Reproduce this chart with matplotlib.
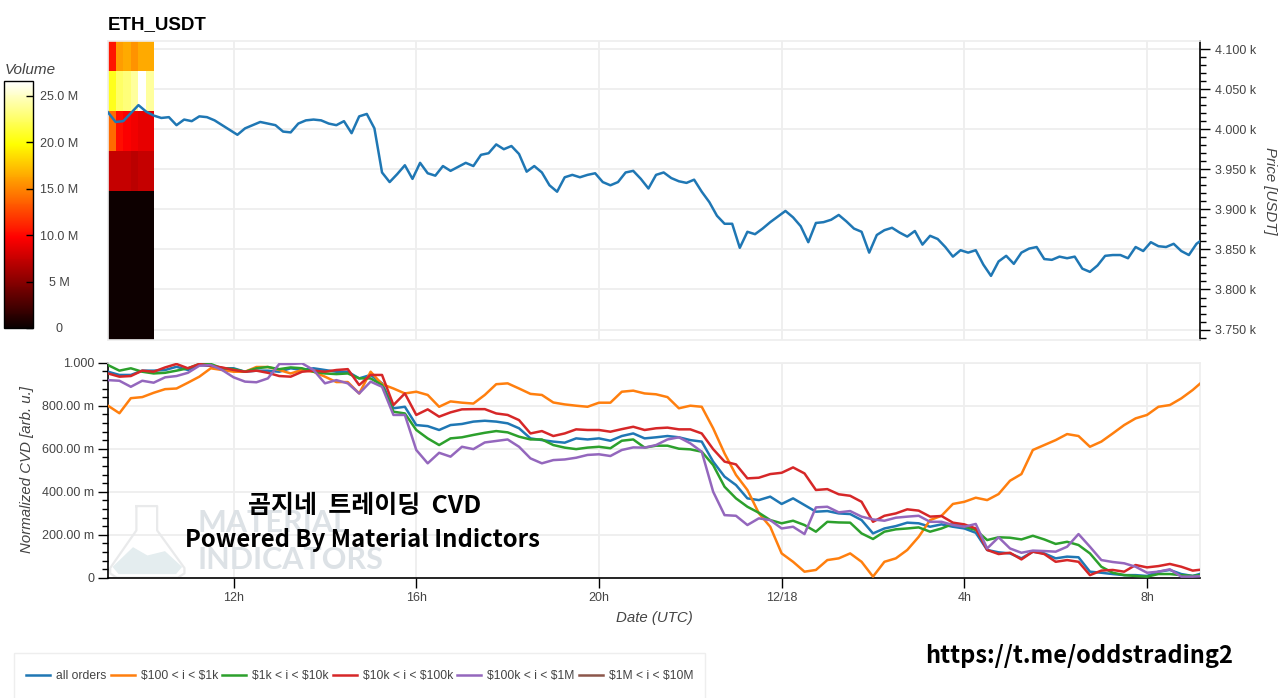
import numpy as np
import matplotlib.pyplot as plt

plt.rcParams['font.family'] = ['Liberation Sans', 'DejaVu Sans']
TEXT = '#444444'
GRID = '#eeeeee'

PRICE = [4021, 4009, 4010, 4020, 4030, 4022, 4017, 4014, 4015, 4005, 4012, 4010,
         4016, 4015, 4011, 4005, 3999, 3993, 4001, 4005, 4009, 4007, 4005, 3997,
         3996, 4007, 4011, 4012, 4011, 4007, 4005, 4010, 3995, 4016, 4019, 4001,
         3946, 3934, 3944, 3955, 3938, 3958, 3945, 3942, 3954, 3948, 3953, 3958,
         3954, 3968, 3970, 3981, 3975, 3979, 3969, 3947, 3954, 3946, 3930, 3922,
         3940, 3943, 3940, 3943, 3945, 3934, 3930, 3934, 3946, 3948, 3938, 3926,
         3943, 3946, 3939, 3935, 3933, 3937, 3922, 3909, 3892, 3882, 3882, 3852,
         3872, 3869, 3876, 3884, 3891, 3898, 3890, 3879, 3859, 3883, 3884, 3887,
         3893, 3885, 3876, 3872, 3846, 3868, 3874, 3877, 3871, 3866, 3873, 3856,
         3867, 3863, 3853, 3841, 3849, 3846, 3849, 3831, 3817, 3835, 3842, 3832,
         3846, 3851, 3853, 3838, 3837, 3841, 3839, 3841, 3826, 3822, 3830, 3842,
         3843, 3843, 3839, 3853, 3848, 3859, 3854, 3853, 3857, 3848, 3843, 3857,
         3864]

CVD = {
    'all orders': ('#1f77b4', [
        .958, .943, .943, .963, .963, .966, .981, .966, .989, .985, .974, .974,
        .958, .963, .963, .958, .974, .966, .974, .966, .958, .958, .927, .943,
        .904, .788, .795, .710, .705, .687, .710, .715, .726, .730, .726, .718,
        .695, .648, .640, .633, .628, .648, .643, .648, .637, .659, .671, .648,
        .653, .659, .653, .640, .633, .540, .470, .431, .369, .361, .377, .343,
        .369, .338, .307, .310, .299, .296, .268, .206, .229, .240, .256, .253,
        .237, .248, .237, .229, .209, .129, .118, .113, .090, .121, .113, .090,
        .098, .095, .028, .023, .017, .012, .012, .008, .028, .036, .017, .008,
        .023]),
    r'\$100 < i < \$1k': ('#ff7f0e', [
        .800, .765, .835, .840, .860, .877, .880, .907, .935, .974, .966, .958,
        .958, .980, .980, .966, .950, .966, .958, .935, .910, .910, .857, .958,
        .900, .880, .857, .865, .850, .795, .820, .814, .810, .850, .900, .904,
        .880, .855, .850, .815, .806, .800, .795, .814, .814, .865, .870, .857,
        .853, .840, .788, .800, .795, .695, .578, .478, .408, .300, .237, .113,
        .074, .028, .036, .082, .090, .113, .074, .005, .074, .090, .129, .190,
        .268, .288, .343, .353, .372, .361, .389, .451, .482, .594, .617, .640,
        .668, .659, .609, .633, .671, .710, .741, .757, .795, .803, .834, .873,
        .919]),
    r'\$1k < i < \$10k': ('#2ca02c', [
        .989, .963, .974, .958, .950, .953, .963, .974, .994, .994, .974, .970,
        .958, .974, .980, .970, .978, .974, .958, .950, .947, .950, .927, .927,
        .896, .772, .764, .687, .648, .617, .648, .653, .664, .674, .682, .676,
        .656, .643, .643, .617, .605, .598, .605, .609, .602, .637, .643, .605,
        .614, .614, .600, .597, .586, .524, .423, .369, .330, .302, .268, .253,
        .265, .245, .214, .260, .257, .256, .206, .180, .214, .225, .229, .234,
        .214, .229, .250, .237, .222, .175, .188, .186, .178, .195, .178, .157,
        .167, .152, .113, .051, .023, .012, .008, .005, .017, .017, .012, .008,
        .015]),
    r'\$10k < i < \$100k': ('#d62728', [
        .950, .935, .938, .963, .958, .978, .994, .974, .994, .985, .978, .966,
        .958, .963, .953, .938, .935, .958, .963, .958, .966, .970, .896, .943,
        .943, .803, .857, .757, .783, .749, .769, .783, .784, .784, .764, .757,
        .733, .671, .682, .659, .671, .690, .687, .687, .679, .691, .702, .687,
        .695, .698, .690, .690, .671, .598, .540, .527, .462, .465, .482, .488,
        .513, .485, .408, .412, .388, .381, .353, .260, .288, .299, .318, .312,
        .284, .287, .256, .248, .229, .129, .110, .116, .085, .121, .110, .074,
        .082, .074, .012, .033, .036, .028, .059, .048, .054, .064, .051, .033,
        .039]),
    r'\$100k < i < \$1M': ('#9467bd', [
        .919, .916, .888, .916, .907, .932, .938, .953, .986, .989, .966, .932,
        .912, .909, .927, .994, .994, .997, .966, .904, .919, .904, .857, .912,
        .888, .757, .757, .594, .532, .581, .563, .609, .598, .629, .636, .643,
        .609, .555, .532, .547, .550, .558, .571, .574, .566, .594, .606, .605,
        .617, .643, .653, .625, .586, .400, .291, .288, .245, .276, .268, .229,
        .237, .203, .327, .330, .304, .310, .284, .271, .265, .279, .284, .288,
        .260, .260, .245, .237, .250, .136, .188, .136, .116, .126, .124, .121,
        .144, .203, .144, .082, .073, .067, .051, .023, .028, .039, .005, .005,
        .008]),
}

VOLUME = [[.15, .15, .15, .15, .15, .15],
          [7.4, 7.4, 7.4, 7, 7.4, 7.4],
          [14, 10.2, 9.6, 9.2, 8.8, 8.8],
          [20.5, 22.5, 23, 24, 26.5, 24],
          [10.5, 16, 16.5, 15.5, 16.5, 16.5]]
VOLUME_EDGES = [3737, 3923, 3973, 4023, 4073, 4110]
HOUR_TICKS = [12, 16, 20, 24, 28, 32]
HOUR_LABELS = ['12h', '16h', '20h', '12/18', '4h', '8h']


class CvdFigure:
    '''two panels sharing the time axis, price on top and cvd below,
       everything placed in pixels of the 1280x698 canvas
    '''
    def __init__(self, width=1280, height=698):
        self.width = float(width)
        self.height = float(height)
        self.xlim = (9.25, 33.16)
        self.fig = plt.figure(figsize=(width / 100.0, height / 100.0), dpi=100)

    def box(self, left, top, right, bottom):
        return [left / self.width, 1 - bottom / self.height,
                (right - left) / self.width, (bottom - top) / self.height]

    def text(self, x, y, s, **kwargs):
        self.fig.text(x / self.width, 1 - y / self.height, s, **kwargs)

    def frame(self, ax):
        for side in ax.spines:
            ax.spines[side].set_color(GRID)
            ax.spines[side].set_linewidth(1.2)
        ax.set_xlim(self.xlim)
        ax.set_xticks(HOUR_TICKS)
        ax.grid(True, color=GRID, linewidth=1.3)
        ax.set_axisbelow(True)

    def plot_price(self):
        ax = plt.axes(self.box(108, 41, 1200, 340))
        self.frame(ax)
        hours = 9.25 + np.arange(len(PRICE)) / 6.0
        cols = 9.25 + np.arange(7) / 6.0
        self.mesh = plt.pcolormesh(cols, VOLUME_EDGES, VOLUME, cmap='hot',
                                   vmin=0, vmax=26.6, zorder=1.5)
        plt.plot(hours, PRICE, color='#1f77b4', linewidth=1.8, zorder=3)
        plt.ylim(3737, 4110)
        ticks = list(range(3750, 4101, 50))
        plt.yticks(ticks, ['%.3f k' % (t / 1000.0) for t in ticks],
                   fontsize=9, color=TEXT)
        ax.set_yticks(range(3740, 4110, 10), minor=True)
        ax.yaxis.tick_right()
        ax.spines['right'].set_color('black')
        ax.tick_params(axis='x', length=0, labelbottom=False)
        ax.tick_params(axis='y', which='major', length=7, width=1, pad=4)
        ax.tick_params(axis='y', which='minor', length=4, width=1)

    def plot_cvd(self):
        ax = plt.axes(self.box(108, 362.7, 1200, 577.7))
        self.frame(ax)
        for name in CVD:
            color, values = CVD[name]
            hours = 9.25 + np.arange(len(values)) / 4.0
            plt.plot(hours, values, color=color, linewidth=1.8, label=name, zorder=3)
        plt.plot([], [], color='#8c564b', linewidth=1.8, label=r'\$1M < i < \$10M')
        plt.ylim(0, 1)
        plt.xticks(HOUR_TICKS, HOUR_LABELS, fontsize=9, color=TEXT)
        plt.yticks([0, .2, .4, .6, .8, 1],
                   ['0', '200.00 m', '400.00 m', '600.00 m', '800.00 m', '1.000'],
                   fontsize=9, color=TEXT)
        ax.set_yticks(np.arange(0, 1.0, .04), minor=True)
        ax.spines['left'].set_color('black')
        ax.spines['bottom'].set_color('black')
        ax.tick_params(which='major', length=7, width=1, pad=3)
        ax.tick_params(which='minor', length=4, width=1)
        self.watermark(ax)
        self.ax_cvd = ax

    def watermark(self, ax):
        # flask logo, axes fractions
        outline_x = [.026, .026, .002, .002, .008, .064, .070, .070, .045, .045, .026]
        outline_y = [.333, .22, .045, .02, .0, .0, .02, .045, .22, .333, .333]
        level_x = [.005, .023, .036, .052, .067, .062, .010]
        level_y = [.05, .138, .10, .12, .05, .02, .02]
        plt.fill(level_x, level_y, color='#e4edef', transform=ax.transAxes, zorder=1)
        plt.plot(outline_x, outline_y, color='#e9eaeb', linewidth=1.6,
                 transform=ax.transAxes, zorder=1)
        for y, word in ((523, 'MATERIAL'), (560, 'INDICATORS')):
            self.text(197, y, word, fontsize=22, fontweight='bold', color='#dde2e6',
                      family='Lato', va='center', ha='left', zorder=0)

    def colorbar(self):
        cax = plt.axes(self.box(4, 81, 33, 328))
        bar = plt.colorbar(self.mesh, cax=cax)
        ticks = [0, 5, 10, 15, 20, 25]
        cax.set_yticks(ticks)
        cax.set_yticklabels(['0', '5 M', '10.0 M', '15.0 M', '20.0 M', '25.0 M'],
                            fontsize=9, color=TEXT, ha='center')
        cax.tick_params(axis='y', direction='in', length=5, width=1, pad=19)
        cax.minorticks_off()
        bar.outline.set_edgecolor('black')
        bar.outline.set_linewidth(1)
        self.text(5, 70, 'Volume', fontsize=11, style='italic', color=TEXT,
                  va='center')

    def decorate(self):
        self.text(108, 25, 'ETH_USDT', fontsize=13.5, fontweight='bold',
                  color='black', va='center')
        self.text(1270, 191, 'Price [USDT]', fontsize=10.8, style='italic', color=TEXT,
                  rotation=-90, va='center', ha='center')
        self.text(27, 470, 'Normalized CVD [arb. u.]', fontsize=10.8, style='italic',
                  color=TEXT, rotation=90, va='center', ha='center')
        self.text(654, 618, 'Date (UTC)', fontsize=10.8, style='italic', color=TEXT,
                  va='center', ha='center')
        korean = ['Noto Sans CJK KR', 'DejaVu Sans']
        self.text(365, 506, '곰지네  트레이딩  CVD', fontsize=18, fontweight='bold',
                  family=korean, color='black', va='center', ha='center')
        self.text(362, 540, 'Powered By Material Indictors', fontsize=17.2,
                  fontweight='bold', family=korean, color='black', va='center',
                  ha='center')
        self.text(1079, 656, 'https://t.me/oddstrading2', fontsize=17,
                  fontweight='bold', family=korean, color='black', va='center',
                  ha='center')

    def legend(self):
        handles, labels = self.ax_cvd.get_legend_handles_labels()
        self.fig.add_artist(plt.Rectangle((14 / self.width, -10 / self.height),
                                          691 / self.width, 55 / self.height,
                                          transform=self.fig.transFigure,
                                          facecolor='white', edgecolor=GRID))
        self.fig.legend(handles, labels, ncol=6, loc='center left',
                        bbox_to_anchor=(26 / self.width, 1 - 676 / self.height),
                        fontsize=8.7, frameon=False, columnspacing=0.33,
                        handlelength=2.0, handletextpad=0.5, borderpad=0,
                        borderaxespad=0, labelcolor=TEXT)

    def save(self, filename):
        self.fig.savefig(filename, dpi=100)

def main():
   chart = CvdFigure()
   chart.plot_price()
   chart.plot_cvd()
   chart.colorbar()
   chart.decorate()
   chart.legend()
   chart.save('out.png')

if __name__ == '__main__':
   main()
